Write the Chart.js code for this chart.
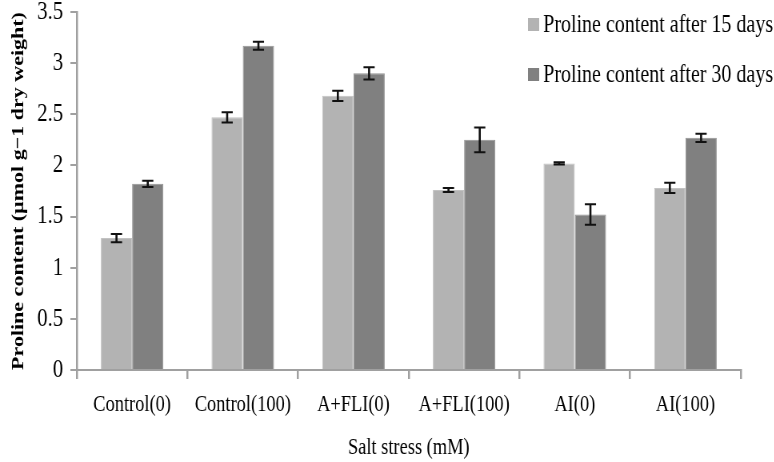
<!DOCTYPE html>
<html>
<head>
<meta charset="utf-8">
<script src="https://cdn.jsdelivr.net/npm/chart.js@4/dist/chart.umd.min.js"></script>
<style>
  html, body { margin: 0; padding: 0; background: #fff; overflow: hidden; }
  /* the original figure is squeezed sideways, so the canvas is drawn wider and scaled down */
  #wrap { width: 968px; height: 462px; position: relative; transform: scaleX(0.8); transform-origin: 0 0; }
</style>
</head>
<body>
<div id="wrap"><canvas id="chart"></canvas></div>
<script>
// values
const categories = ["Control(0)", "Control(100)", "A+FLI(0)", "A+FLI(100)", "AI(0)", "AI(100)"];
const seriesNames = ["Proline content after 15 days", "Proline content after 30 days"];
const after15 = [1.29, 2.47, 2.68, 1.76, 2.02, 1.78];
const after30 = [1.82, 3.17, 2.90, 2.25, 1.52, 2.27];
const err15 = [0.04, 0.05, 0.05, 0.02, 0.01, 0.05];
const err30 = [0.03, 0.04, 0.06, 0.12, 0.10, 0.04];
const yTicks = [0, 0.5, 1, 1.5, 2, 2.5, 3, 3.5];

const serif = "'Liberation Serif', 'Times New Roman', serif";
const colors = ["#b3b3b3", "#808080"];
const errs = [err15, err30];

// black error bars on top of each bar
const errorBars = {
    id: "errorBars",
    afterDatasetsDraw(chart) {
        const ctx = chart.ctx;
        const y = chart.scales.y;
        ctx.save();
        ctx.strokeStyle = "#111";
        chart.data.datasets.forEach((ds, di) => {
            const meta = chart.getDatasetMeta(di);
            meta.data.forEach((bar, i) => {
                const v = ds.data[i];
                const e = errs[di][i];
                const top = y.getPixelForValue(v + e);
                const bot = y.getPixelForValue(v - e);
                ctx.lineWidth = 2.6;
                ctx.beginPath();
                ctx.moveTo(bar.x, top); ctx.lineTo(bar.x, bot);
                ctx.stroke();
                ctx.lineWidth = 2;
                ctx.beginPath();
                ctx.moveTo(bar.x - 7, top); ctx.lineTo(bar.x + 7, top);
                ctx.moveTo(bar.x - 7, bot); ctx.lineTo(bar.x + 7, bot);
                ctx.stroke();
            });
        });
        ctx.restore();
    }
};

// legend in the top right corner
const cornerLegend = {
    id: "cornerLegend",
    afterDraw(chart) {
        const ctx = chart.ctx;
        ctx.save();
        ctx.font = "25px " + serif;
        ctx.textBaseline = "middle";
        seriesNames.forEach((name, i) => {
            const yy = 25 + i * 50;
            ctx.fillStyle = colors[i];
            ctx.fillRect(660, yy - 7, 14, 13);
            ctx.fillStyle = "#000";
            ctx.fillText(name, 679, yy);
        });
        ctx.restore();
    }
};

new Chart(document.getElementById("chart"), {
    type: "bar",
    data: {
        labels: categories,
        datasets: [
            { label: seriesNames[0], data: after15, backgroundColor: colors[0], borderColor: "#c2c2c2", borderWidth: 1 },
            { label: seriesNames[1], data: after30, backgroundColor: colors[1], borderColor: "#939393", borderWidth: 1 }
        ]
    },
    options: {
        responsive: true,
        maintainAspectRatio: false,
        animation: false,
        layout: { padding: { top: 12, right: 42, bottom: 0, left: 0 } },
        datasets: { bar: { categoryPercentage: 0.565, barPercentage: 1.0 } },
        plugins: {
            legend: { display: false },
            tooltip: { enabled: false }
        },
        scales: {
            x: {
                afterFit(scale) { scale.height = 92; scale.paddingLeft = 0; scale.paddingRight = 0; },
                grid: { display: true, offset: true, drawOnChartArea: false, color: "#a0a0a0", tickLength: 9, lineWidth: 2.5 },
                border: { color: "#a0a0a0", width: 2 },
                ticks: { color: "#000", font: { family: serif, size: 23 }, padding: 12, maxRotation: 0 },
                title: { display: true, text: "Salt stress (mM)", color: "#000", font: { family: serif, size: 23 }, padding: { top: 0, bottom: 0 } }
            },
            y: {
                min: 0,
                max: 3.5,
                afterBuildTicks(scale) { scale.ticks = yTicks.map(v => ({ value: v })); },
                afterFit(scale) { scale.width = 96; scale.paddingTop = 0; scale.paddingBottom = 0; },
                grid: { display: true, drawOnChartArea: false, color: "#a0a0a0", tickLength: 8, lineWidth: 2 },
                border: { color: "#a0a0a0", width: 2.5 },
                ticks: { color: "#000", font: { family: serif, size: 26 }, padding: 9, callback: (v) => String(v) },
                title: { display: true, text: "Proline content (µmol g−1 dry weight)", color: "#000", font: { family: serif, size: 22, weight: "bold" }, padding: { top: 10, bottom: 0 } }
            }
        }
    },
    plugins: [errorBars, cornerLegend]
});
</script>
</body>
</html>
